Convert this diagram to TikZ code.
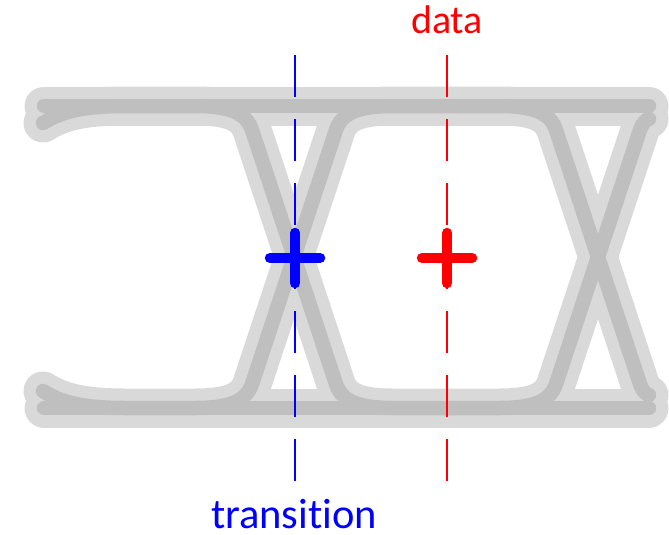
\documentclass[tikz,border=0pt]{standalone}
\usepackage{fontspec}
\setmainfont{Carlito}[Ligatures=NoCommon]
\definecolor{haloGray}{RGB}{217,217,217}
\definecolor{coreGray}{RGB}{191,191,191}
\definecolor{markBlue}{RGB}{0,0,255}
\definecolor{markRed}{RGB}{255,0,0}

% The four traces of the eye: two rails and two waveforms
% crossing at x = 294 and x = 598.
\newcommand\eyetraces[1]{%
  \draw[#1] (44,106) -- (649,106);
  \draw[#1] (44,408) -- (649,408);
  \draw[#1] (43,123) .. controls (62,111) and (85,106) .. (125,106)
    -- (195,106) .. controls (228,106) and (246,112) .. (252,130)
    -- (336,384) .. controls (342,402) and (360,408) .. (393,408)
    -- (499,408) .. controls (532,408) and (550,402) .. (556,384)
    -- (640,130) .. controls (643,122) and (646,120) .. (649,119);
  \draw[#1] (43,391) .. controls (62,403) and (85,408) .. (125,408)
    -- (195,408) .. controls (228,408) and (246,402) .. (252,384)
    -- (336,130) .. controls (342,112) and (360,106) .. (393,106)
    -- (499,106) .. controls (532,106) and (550,112) .. (556,130)
    -- (640,384) .. controls (643,392) and (646,394) .. (649,395);
}

\begin{document}
\begin{tikzpicture}[x=1pt,y=-1pt,
  halo/.style={draw=haloGray, line width=39pt, line cap=round, line join=round},
  core/.style={draw=coreGray, line width=14.5pt, line cap=round, line join=round},
  marker/.style={dash pattern=on 42pt off 22pt, line width=2.5pt},
  crossmark/.style={line width=10.5pt, line cap=round},
  lbl/.style={inner sep=0pt, anchor=base}]
  \useasboundingbox (0,0) rectangle (669,535);

  % gray eye: wide light halos first, then the darker cores
  \eyetraces{halo}
  \eyetraces{core}

  % sampling instants
  \coordinate (tTop) at (295,55);
  \coordinate (tBot) at (295,481);
  \coordinate (dTop) at (447,55);
  \coordinate (dBot) at (447,481);
  \draw[marker, markBlue] (tTop) -- (tBot);
  \draw[marker, markRed] (dTop) -- (dBot);

  % sample points
  \coordinate (tMark) at (295,258);
  \coordinate (dMark) at (447,258);
  \draw[crossmark, markBlue] ([xshift=-25pt]tMark) -- ([xshift=25pt]tMark)
                             ([yshift=-25pt]tMark) -- ([yshift=25pt]tMark);
  \draw[crossmark, markRed] ([xshift=-25pt]dMark) -- ([xshift=25pt]dMark)
                            ([yshift=-25pt]dMark) -- ([yshift=25pt]dMark);

  % labels
  \node[lbl, text=markRed, font=\fontsize{40}{48}\selectfont]
    (dataLabel) at (447,33.5) {data};
  \node[lbl, text=markBlue, font=\fontsize{42.5}{50}\selectfont]
    (transLabel) at (294,528.5) {transition};
\end{tikzpicture}
\end{document}
